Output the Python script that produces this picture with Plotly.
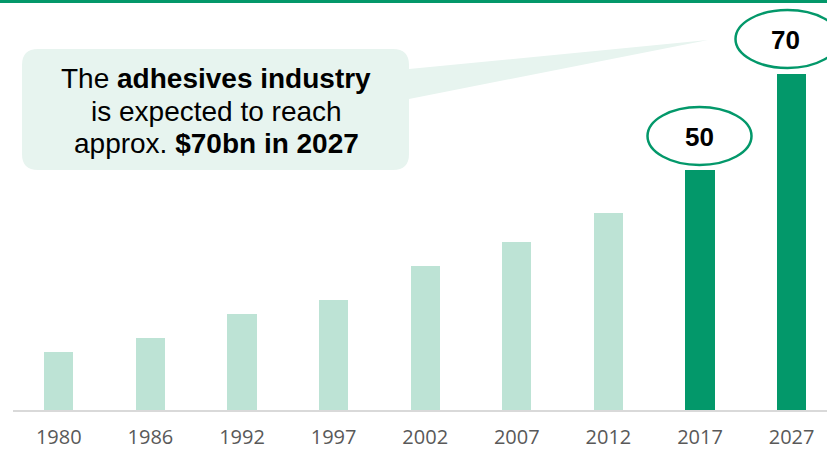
import plotly.graph_objects as go

# ---- data ----
years = ["1980", "1986", "1992", "1997", "2002", "2007", "2012", "2017", "2027"]
values = [12, 15, 20, 23, 30, 35, 41, 50, 70]
highlight = [False, False, False, False, False, False, False, True, True]
labelled_years = ["2017", "2027"]
labelled_values = ["50", "70"]

DARK = "#03986A"
LIGHT = "#BDE3D5"
BOX = "#E7F4EF"

W, H = 827, 450
L, B = 13, 40
PW, PH = W - L, H - B


def px(x):
    return (x - L) / PW


def py(y):
    return (PH - y) / PH


fig = go.Figure()
fig.add_trace(go.Bar(
    x=years, y=values,
    marker=dict(color=[DARK if h else LIGHT for h in highlight], line=dict(width=0)),
    width=0.317, hoverinfo="skip",
))

shapes = []
# top green rule
shapes.append(dict(type="rect", xref="paper", yref="paper",
                   x0=px(0), x1=px(W), y0=py(3), y1=py(0),
                   fillcolor=DARK, line=dict(width=0), layer="above"))

# callout box (rounded) + tail
x0b, x1b, y0b, y1b, r = 22, 409, 49, 170, 16
path = (f"M {px(x0b + r)},{py(y0b)} L {px(x1b - r)},{py(y0b)} "
        f"Q {px(x1b)},{py(y0b)} {px(x1b)},{py(y0b + r)} "
        f"L {px(x1b)},{py(69)} L {px(708)},{py(40)} L {px(x1b)},{py(99)} "
        f"L {px(x1b)},{py(y1b - r)} "
        f"Q {px(x1b)},{py(y1b)} {px(x1b - r)},{py(y1b)} "
        f"L {px(x0b + r)},{py(y1b)} Q {px(x0b)},{py(y1b)} {px(x0b)},{py(y1b - r)} "
        f"L {px(x0b)},{py(y0b + r)} Q {px(x0b)},{py(y0b)} {px(x0b + r)},{py(y0b)} Z")
shapes.append(dict(type="path", xref="paper", yref="paper", path=path,
                   fillcolor=BOX, line=dict(width=0), layer="above"))

# value ellipses
ell_centers = {"2017": (699.5, 136), "2027": (787.5, 39)}
rx, ry = 52, 29
for yr in labelled_years:
    cx, cy = ell_centers[yr]
    shapes.append(dict(type="circle", xref="paper", yref="paper",
                       x0=px(cx - rx), x1=px(cx + rx), y0=py(cy + ry), y1=py(cy - ry),
                       fillcolor="white", line=dict(color=DARK, width=2.5), layer="above"))

annotations = []
text_pos = {"2017": (699, 137), "2027": (785, 40)}
for yr, lab in zip(labelled_years, labelled_values):
    tx, ty = text_pos[yr]
    annotations.append(dict(xref="paper", yref="paper", x=px(tx), y=py(ty),
                            text=f"<b>{lab}</b>", showarrow=False,
                            xanchor="center", yanchor="middle",
                            font=dict(family="Liberation Sans, Arial", size=26, color="black")))

callout_lines = ["The <b>adhesives industry</b>", "is expected to reach",
                 "approx. <b>$70bn in 2027</b>"]
line_y = [78.5, 111, 143.5]
for t, ly in zip(callout_lines, line_y):
    annotations.append(dict(xref="paper", yref="paper", x=px(216), y=py(ly),
                            text=t, showarrow=False, xanchor="center", yanchor="middle",
                            font=dict(family="Liberation Sans, Arial", size=28, color="black")))

fig.update_layout(
    width=W, height=H,
    margin=dict(l=L, r=0, t=0, b=B, pad=0, autoexpand=False),
    paper_bgcolor="white", plot_bgcolor="white",
    showlegend=False, bargap=0,
    shapes=shapes, annotations=annotations,
    xaxis=dict(type="category", range=[-0.5, -0.5 + PW / 91.6],
               automargin=False,
               showline=True, linecolor="#D9D9D9", linewidth=2,
               showgrid=False, zeroline=False,
               ticks="outside", ticklen=8, tickcolor="rgba(0,0,0,0)",
               tickfont=dict(family="Open Sans", size=20, color="#595959")),
    yaxis=dict(range=[0, PH / 4.8], visible=False, showgrid=False, zeroline=False),
    hovermode=False,
)

fig.write_html("out.html", config={"displayModeBar": False})
